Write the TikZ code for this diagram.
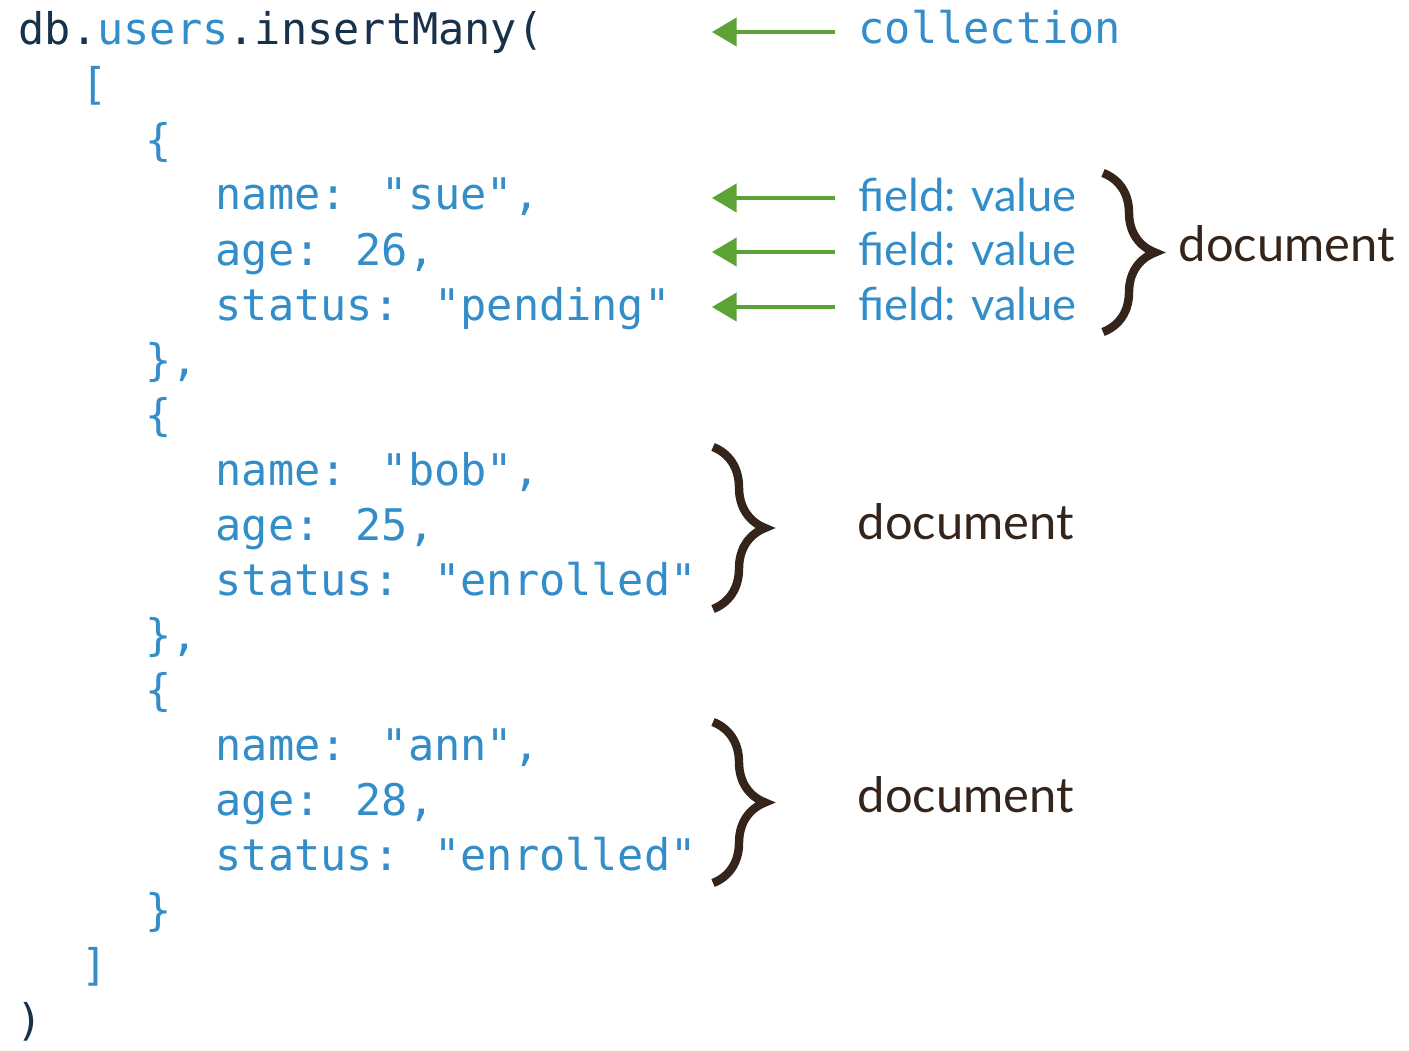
\documentclass[tikz,border=0pt]{standalone}
\usepackage{fontspec}
\usepackage{xcolor}
\usepackage{tikz}
\usetikzlibrary{arrows.meta,positioning,decorations.pathreplacing}

\newfontfamily\codefont{DejaVu Sans Mono}
\newfontfamily\notefont{Lato}

\definecolor{codeblue}{RGB}{51,141,200}
\definecolor{codenavy}{RGB}{25,50,75}
\definecolor{arrowgreen}{RGB}{92,162,52}
\definecolor{bracebrown}{RGB}{52,36,26}

\begin{document}
\begin{tikzpicture}[
    mono/.style={font=\codefont\fontsize{12.4}{15}\selectfont},
    sans/.style={font=\notefont\fontsize{12.9}{16}\selectfont},
    code/.style={mono, anchor=base west, inner sep=0pt, text=codeblue},
    note/.style={anchor=west, inner xsep=0.23cm, inner ysep=0pt, text depth=0pt, text=codeblue},
    doc/.style={font=\notefont\fontsize{13.9}{16}\selectfont, anchor=base west, inner sep=0pt, text=bracebrown},
    arrow/.style={-{Triangle[length=7pt,width=8pt]}, line width=1.1pt, draw=arrowgreen},
    curly/.style={decorate, decoration={brace, amplitude=0.52cm}, line width=2.4pt, draw=bracebrown}
]
    \useasboundingbox (0,0) rectangle (14.09,-10.51);

    % the call
    \node[code] (call)    at (0.18,-0.45) {{\color{codenavy}db.}users{\color{codenavy}.insertMany(}};
    \node[code] (open)    at (0.81,-1.00) {[};
    \node[code] (sueA)    at (1.45,-1.55) {\{};
    \node[code] (sueName) at (2.15,-2.10) {name: "sue",};
    \node[code] (sueAge)  at (2.15,-2.65) {age: 26,};
    \node[code] (sueStat) at (2.15,-3.20) {status: "pending"};
    \node[code] (sueB)    at (1.45,-3.75) {\},};
    \node[code] (bobA)    at (1.45,-4.30) {\{};
    \node[code] (bobName) at (2.15,-4.85) {name: "bob",};
    \node[code] (bobAge)  at (2.15,-5.40) {age: 25,};
    \node[code] (bobStat) at (2.15,-5.95) {status: "enrolled"};
    \node[code] (bobB)    at (1.45,-6.50) {\},};
    \node[code] (annA)    at (1.45,-7.05) {\{};
    \node[code] (annName) at (2.15,-7.60) {name: "ann",};
    \node[code] (annAge)  at (2.15,-8.15) {age: 28,};
    \node[code] (annStat) at (2.15,-8.70) {status: "enrolled"};
    \node[code] (annB)    at (1.45,-9.25) {\}};
    \node[code] (close)   at (0.81,-9.80) {]};
    \node[code, text=codenavy] (end) at (0.16,-10.35) {)};

    % labels on the right
    \node[note, mono, text height=0.24cm] (coll) at (8.35,-0.32) {collection};
    \node[note, sans, text height=0.27cm] (fieldA) at (8.35,-1.98) {field: value};
    \node[note, sans, text height=0.27cm] (fieldB) at (8.35,-2.52) {field: value};
    \node[note, sans, text height=0.27cm] (fieldC) at (8.35,-3.07) {field: value};

    \coordinate (collTip) at (7.12,-0.32);
    \coordinate (tipA) at (7.12,-1.98);
    \coordinate (tipB) at (7.12,-2.52);
    \coordinate (tipC) at (7.12,-3.07);

    \draw[arrow] (coll) -- (collTip);
    \draw[arrow] (fieldA) -- (tipA);
    \draw[arrow] (fieldB) -- (tipB);
    \draw[arrow] (fieldC) -- (tipC);

    % braces
    \coordinate (sueTop) at (11.03,-1.73);
    \coordinate (sueBot) at (11.03,-3.32);
    \coordinate (bobTop) at (7.13,-4.47);
    \coordinate (bobBot) at (7.13,-6.09);
    \coordinate (annTop) at (7.13,-7.22);
    \coordinate (annBot) at (7.13,-8.83);

    \draw[curly] (sueTop) -- (sueBot);
    \draw[curly] (bobTop) -- (bobBot);
    \draw[curly] (annTop) -- (annBot);

    \node[doc] (docSue) at (11.78,-2.62) {document};
    \node[doc] (docBob) at (8.57,-5.39) {document};
    \node[doc] (docAnn) at (8.57,-8.12) {document};
\end{tikzpicture}
\end{document}
